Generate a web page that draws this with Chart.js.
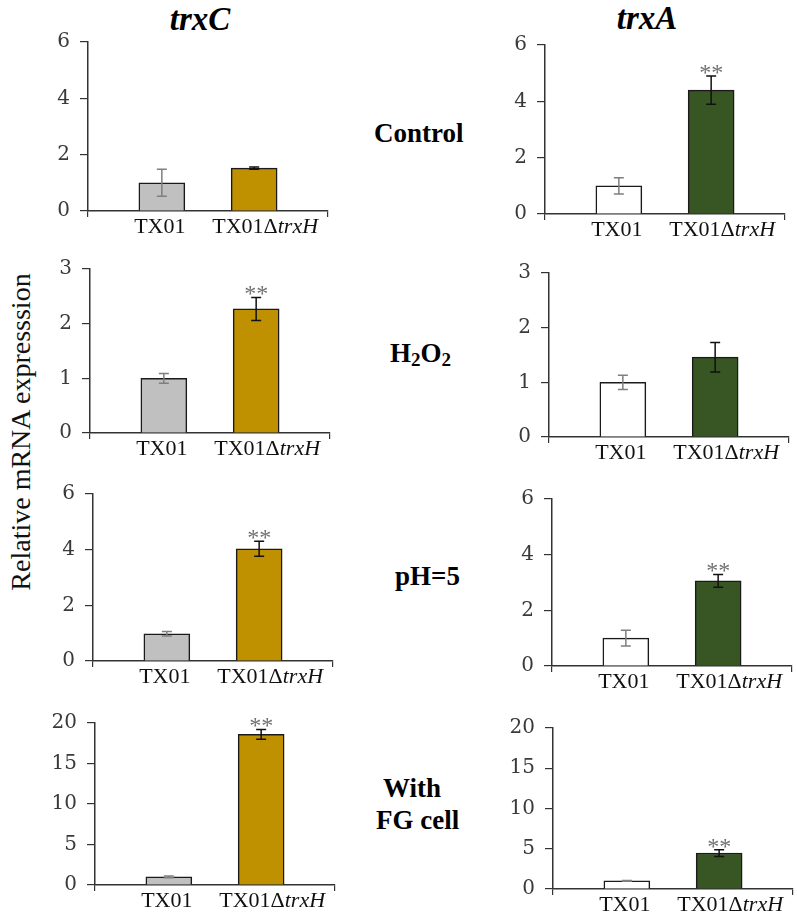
<!DOCTYPE html>
<html>
<head>
<meta charset="utf-8">
<script src="https://cdn.jsdelivr.net/npm/chart.js@4"></script>
<style>
  body { margin: 0; background: #fff; width: 797px; height: 923px; position: relative; overflow: hidden; }
  canvas { position: absolute; }
  .lbl { position: absolute; font-family: "Liberation Serif", "Times New Roman", serif; line-height: 1; color: #000; white-space: nowrap; }
  .title { font-size: 33px; font-weight: bold; font-style: italic; transform: translateX(-50%); }
  .cond { font-size: 27px; font-weight: bold; }
  .ytitle { font-size: 28px; transform: translate(-50%, -50%) rotate(-90deg); color: #111; }
</style>
</head>
<body>
<div class="lbl title" style="left:200px; top:3px;">trxC</div>
<div class="lbl title" style="left:647px; top:2px;">trxA</div>
<div class="lbl cond" style="left:374px; top:120px;">Control</div>
<div class="lbl cond" style="left:390px; top:340px;">H<sub style="font-size:19px; vertical-align:-4px;">2</sub>O<sub style="font-size:19px; vertical-align:-4px;">2</sub></div>
<div class="lbl cond" style="left:395px; top:563px;">pH=5</div>
<div class="lbl cond" style="left:383px; top:775px;">With</div>
<div class="lbl cond" style="left:376px; top:807px;">FG cell</div>
<div class="lbl ytitle" style="left:21px; top:432px;">Relative mRNA expresssion</div>

<script>
// categories and values
const categories = ['TX01', 'TX01\u0394trxH'];
const conditions = ['Control', 'H2O2', 'pH=5', 'With FG cell'];
const yMax = [6, 3, 6, 20];
const yStep = [2, 1, 2, 5];

const trxC = [[1.0, 1.52], [1.0, 2.27], [0.98, 4.03], [1.0, 18.6]];
const trxCErr = [[0.48, 0.04], [0.09, 0.21], [0.08, 0.27], [0.1, 0.6]];
const trxCSig = [false, true, true, true];

const trxA = [[1.0, 4.40], [1.0, 1.46], [1.0, 3.06], [1.0, 4.47]];
const trxAErr = [[0.29, 0.5], [0.13, 0.27], [0.28, 0.23], [0.05, 0.42]];
const trxASig = [true, false, true, true];

// where each plot area sits on the page
const leftAxisX = [88, 90, 93, 95];
const leftTopY = [42, 269, 494, 723];
const leftZeroY = [211, 433, 661, 885];
const rightAxisX = [545, 549, 552, 553];
const rightTopY = [45, 273, 499, 728];
const rightZeroY = [214, 437, 666, 889];

const serif = '"Liberation Serif", "Times New Roman", serif';
const tickFont = '"DejaVu Serif", serif';

const errorBars = {
  id: 'errorBars',
  afterDatasetsDraw(chart, args, opts) {
    const ctx = chart.ctx;
    const y = chart.scales.y;
    const meta = chart.getDatasetMeta(0);
    meta.data.forEach((bar, i) => {
      const v = opts.values[i], e = opts.errors[i];
      const top = y.getPixelForValue(v + e), bot = y.getPixelForValue(v - e);
      ctx.save();
      ctx.strokeStyle = i === 0 ? '#7f7f7f' : '#111';
      ctx.lineWidth = 1.5;
      ctx.beginPath();
      ctx.moveTo(bar.x, top); ctx.lineTo(bar.x, bot);
      ctx.moveTo(bar.x - 5, top); ctx.lineTo(bar.x + 5, top);
      ctx.moveTo(bar.x - 5, bot); ctx.lineTo(bar.x + 5, bot);
      ctx.stroke();
      if (i === 1 && opts.sig) {
        ctx.fillStyle = '#707070';
        ctx.font = '24px ' + serif;
        ctx.textAlign = 'center';
        ctx.textBaseline = 'alphabetic';
        ctx.fillText('**', bar.x, top + 4);
      }
      ctx.restore();
    });
  }
};

const catLabels = {
  id: 'catLabels',
  afterDraw(chart) {
    const ctx = chart.ctx;
    const x = chart.scales.x;
    const base = chart.chartArea.bottom + 22;
    ctx.save();
    ctx.fillStyle = '#111';
    ctx.textBaseline = 'alphabetic';
    categories.forEach((c, i) => {
      const cx = x.getPixelForValue(i + 1);
      const parts = c.split('\u0394');
      if (parts.length === 1) {
        ctx.font = '22px ' + serif;
        ctx.textAlign = 'center';
        ctx.fillText(c, cx - 2, base);
      } else {
        const a = parts[0] + '\u0394', b = parts[1];
        ctx.font = '22px ' + serif;
        const wa = ctx.measureText(a).width;
        ctx.font = 'italic 22px ' + serif;
        const wb = ctx.measureText(b).width;
        let sx = cx + 11 - (wa + wb) / 2;
        ctx.textAlign = 'left';
        ctx.font = '22px ' + serif;
        ctx.fillText(a, sx, base);
        ctx.font = 'italic 22px ' + serif;
        ctx.fillText(b, sx + wa, base);
      }
    });
    ctx.restore();
  }
};

function makePanel(canvasLeft, axisX, topY, zeroY, vals, errs, sig, max, step, colors) {
  const padTop = 30, padBottom = 40, padRight = 12, plotW = 240;
  const cv = document.createElement('canvas');
  const w = (axisX - canvasLeft) + plotW + padRight;
  const h = (zeroY - topY) + padTop + padBottom;
  cv.width = w; cv.height = h;
  cv.style.left = canvasLeft + 'px';
  cv.style.top = (topY - padTop) + 'px';
  document.body.appendChild(cv);

  new Chart(cv, {
    type: 'bar',
    data: {
      datasets: [{
        data: vals.map((v, i) => ({ x: i + 1, y: v })),
        backgroundColor: colors,
        borderColor: '#1a1a1a',
        borderWidth: 1.5,
        barThickness: 46
      }]
    },
    options: {
      responsive: false,
      animation: false,
      devicePixelRatio: 1,
      layout: { padding: { top: padTop, bottom: padBottom, right: padRight, left: 0 } },
      plugins: {
        legend: { display: false },
        tooltip: { enabled: false },
        errorBars: { values: vals, errors: errs, sig: sig }
      },
      scales: {
        x: {
          type: 'linear',
          offset: false,
          min: 0.2,
          max: 2.8,
          afterBuildTicks: s => { s.ticks = [{ value: s.min }, { value: s.max }]; },
          afterFit: s => { s.height = 0; },
          ticks: { display: false },
          grid: { display: true, offset: false, drawOnChartArea: false, tickLength: 6, color: '#333', lineWidth: 1.2 },
          border: { display: true, color: '#333', width: 1.5 }
        },
        y: {
          min: 0,
          max: max,
          afterFit: s => { s.width = axisX - canvasLeft; },
          ticks: { stepSize: step, padding: 10, color: '#3a3a3a', font: { family: tickFont, size: 20 } },
          grid: { display: true, drawOnChartArea: false, tickLength: 8, color: '#333', lineWidth: 1.2 },
          border: { display: true, color: '#333', width: 1.5 }
        }
      }
    },
    plugins: [errorBars, catLabels]
  });
}

for (let k = 0; k < 4; k++) {
  makePanel(0, leftAxisX[k], leftTopY[k], leftZeroY[k], trxC[k], trxCErr[k], trxCSig[k],
    yMax[k], yStep[k], ['#c0c0c0', '#bf9000']);
  makePanel(460, rightAxisX[k], rightTopY[k], rightZeroY[k], trxA[k], trxAErr[k], trxASig[k],
    yMax[k], yStep[k], ['#ffffff', '#375623']);
}
</script>
</body>
</html>
